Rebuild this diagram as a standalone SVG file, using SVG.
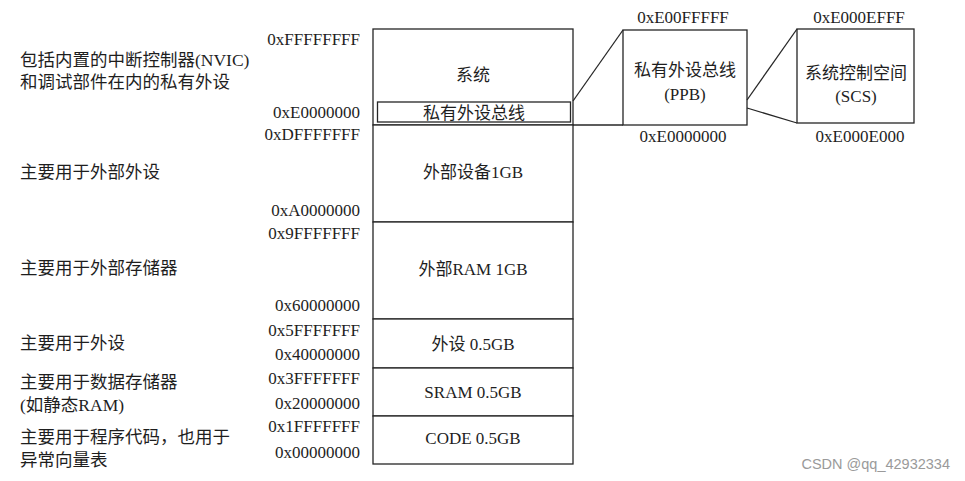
<svg xmlns="http://www.w3.org/2000/svg" width="965" height="481" viewBox="0 0 965 481">
  <style>
    .box { fill: #ffffff; stroke: #262626; stroke-width: 1.3; }
    .ln { fill: none; stroke: #262626; stroke-width: 1.3; }
    text { font-family: "Liberation Serif", "Noto Sans CJK SC", serif; font-size: 17px; fill: #1e1e1e; }
    .addr { text-anchor: end; }
    .mid { text-anchor: middle; }
    .note { text-anchor: start; font-size: 17.5px; }
    .mark { font-family: "Liberation Sans", "Noto Sans CJK SC", sans-serif; font-size: 14.5px; fill: #9a9a9a; text-anchor: end; }
  </style>
  <rect width="965" height="481" fill="#ffffff"/>

  <!-- address labels, left of the memory map -->
  <g id="addresses">
    <text class="addr" x="360" y="45">0xFFFFFFFF</text>
    <text class="addr" x="360" y="118">0xE0000000</text>
    <text class="addr" x="360" y="140">0xDFFFFFFF</text>
    <text class="addr" x="360" y="216">0xA0000000</text>
    <text class="addr" x="360" y="239">0x9FFFFFFF</text>
    <text class="addr" x="360" y="311">0x60000000</text>
    <text class="addr" x="360" y="336">0x5FFFFFFF</text>
    <text class="addr" x="360" y="360">0x40000000</text>
    <text class="addr" x="360" y="384">0x3FFFFFFF</text>
    <text class="addr" x="360" y="409">0x20000000</text>
    <text class="addr" x="360" y="432">0x1FFFFFFF</text>
    <text class="addr" x="360" y="458">0x00000000</text>
  </g>

  <!-- usage notes -->
  <g id="notes">
    <text class="note" x="20" y="66">包括内置的中断控制器(NVIC)</text>
    <text class="note" x="20" y="88">和调试部件在内的私有外设</text>
    <text class="note" x="20" y="178">主要用于外部外设</text>
    <text class="note" x="20" y="274">主要用于外部存储器</text>
    <text class="note" x="20" y="349">主要用于外设</text>
    <text class="note" x="20" y="388">主要用于数据存储器</text>
    <text class="note" x="20" y="411">(如静态RAM)</text>
    <text class="note" x="20" y="443">主要用于程序代码，也用于</text>
    <text class="note" x="20" y="466">异常向量表</text>
  </g>

  <!-- memory map column -->
  <g id="region-system">
    <rect class="box" x="373" y="29" width="200" height="96"/>
    <text class="mid" x="473" y="81">系统</text>
  </g>
  <g id="region-ppb-slot">
    <rect class="box" x="377.5" y="102" width="193" height="20"/>
    <text class="mid" x="474" y="119">私有外设总线</text>
  </g>
  <g id="region-ext-device">
    <rect class="box" x="373" y="125" width="200" height="97"/>
    <text class="mid" x="473" y="178">外部设备1GB</text>
  </g>
  <g id="region-ext-ram">
    <rect class="box" x="373" y="222" width="200" height="97"/>
    <text class="mid" x="473" y="275">外部RAM 1GB</text>
  </g>
  <g id="region-peripheral">
    <rect class="box" x="373" y="319" width="200" height="49"/>
    <text class="mid" x="473" y="350">外设 0.5GB</text>
  </g>
  <g id="region-sram">
    <rect class="box" x="373" y="368" width="200" height="48"/>
    <text class="mid" x="473" y="398">SRAM 0.5GB</text>
  </g>
  <g id="region-code">
    <rect class="box" x="373" y="416" width="200" height="48"/>
    <text class="mid" x="473" y="444">CODE 0.5GB</text>
  </g>

  <!-- private peripheral bus detail -->
  <g id="ppb">
    <rect class="box" x="623" y="30" width="124" height="95"/>
    <text class="mid" x="685" y="76">私有外设总线</text>
    <text class="mid" x="685" y="100">(PPB)</text>
    <text class="mid" x="683" y="23">0xE00FFFFF</text>
    <text class="mid" x="683" y="142">0xE0000000</text>
  </g>

  <!-- system control space detail -->
  <g id="scs">
    <rect class="box" x="797" y="29" width="117" height="94"/>
    <text class="mid" x="856" y="79">系统控制空间</text>
    <text class="mid" x="856" y="102">(SCS)</text>
    <text class="mid" x="859" y="23">0xE000EFFF</text>
    <text class="mid" x="860" y="142">0xE000E000</text>
  </g>

  <!-- zoom-in connectors -->
  <g id="connectors">
    <line class="ln" x1="573" y1="101" x2="623" y2="30"/>
    <line class="ln" x1="573" y1="125" x2="623" y2="125"/>
    <line class="ln" x1="747" y1="100" x2="797" y2="29"/>
    <line class="ln" x1="747" y1="108" x2="797" y2="123"/>
  </g>

  <text class="mark" x="950" y="469">CSDN @qq_42932334</text>
</svg>
